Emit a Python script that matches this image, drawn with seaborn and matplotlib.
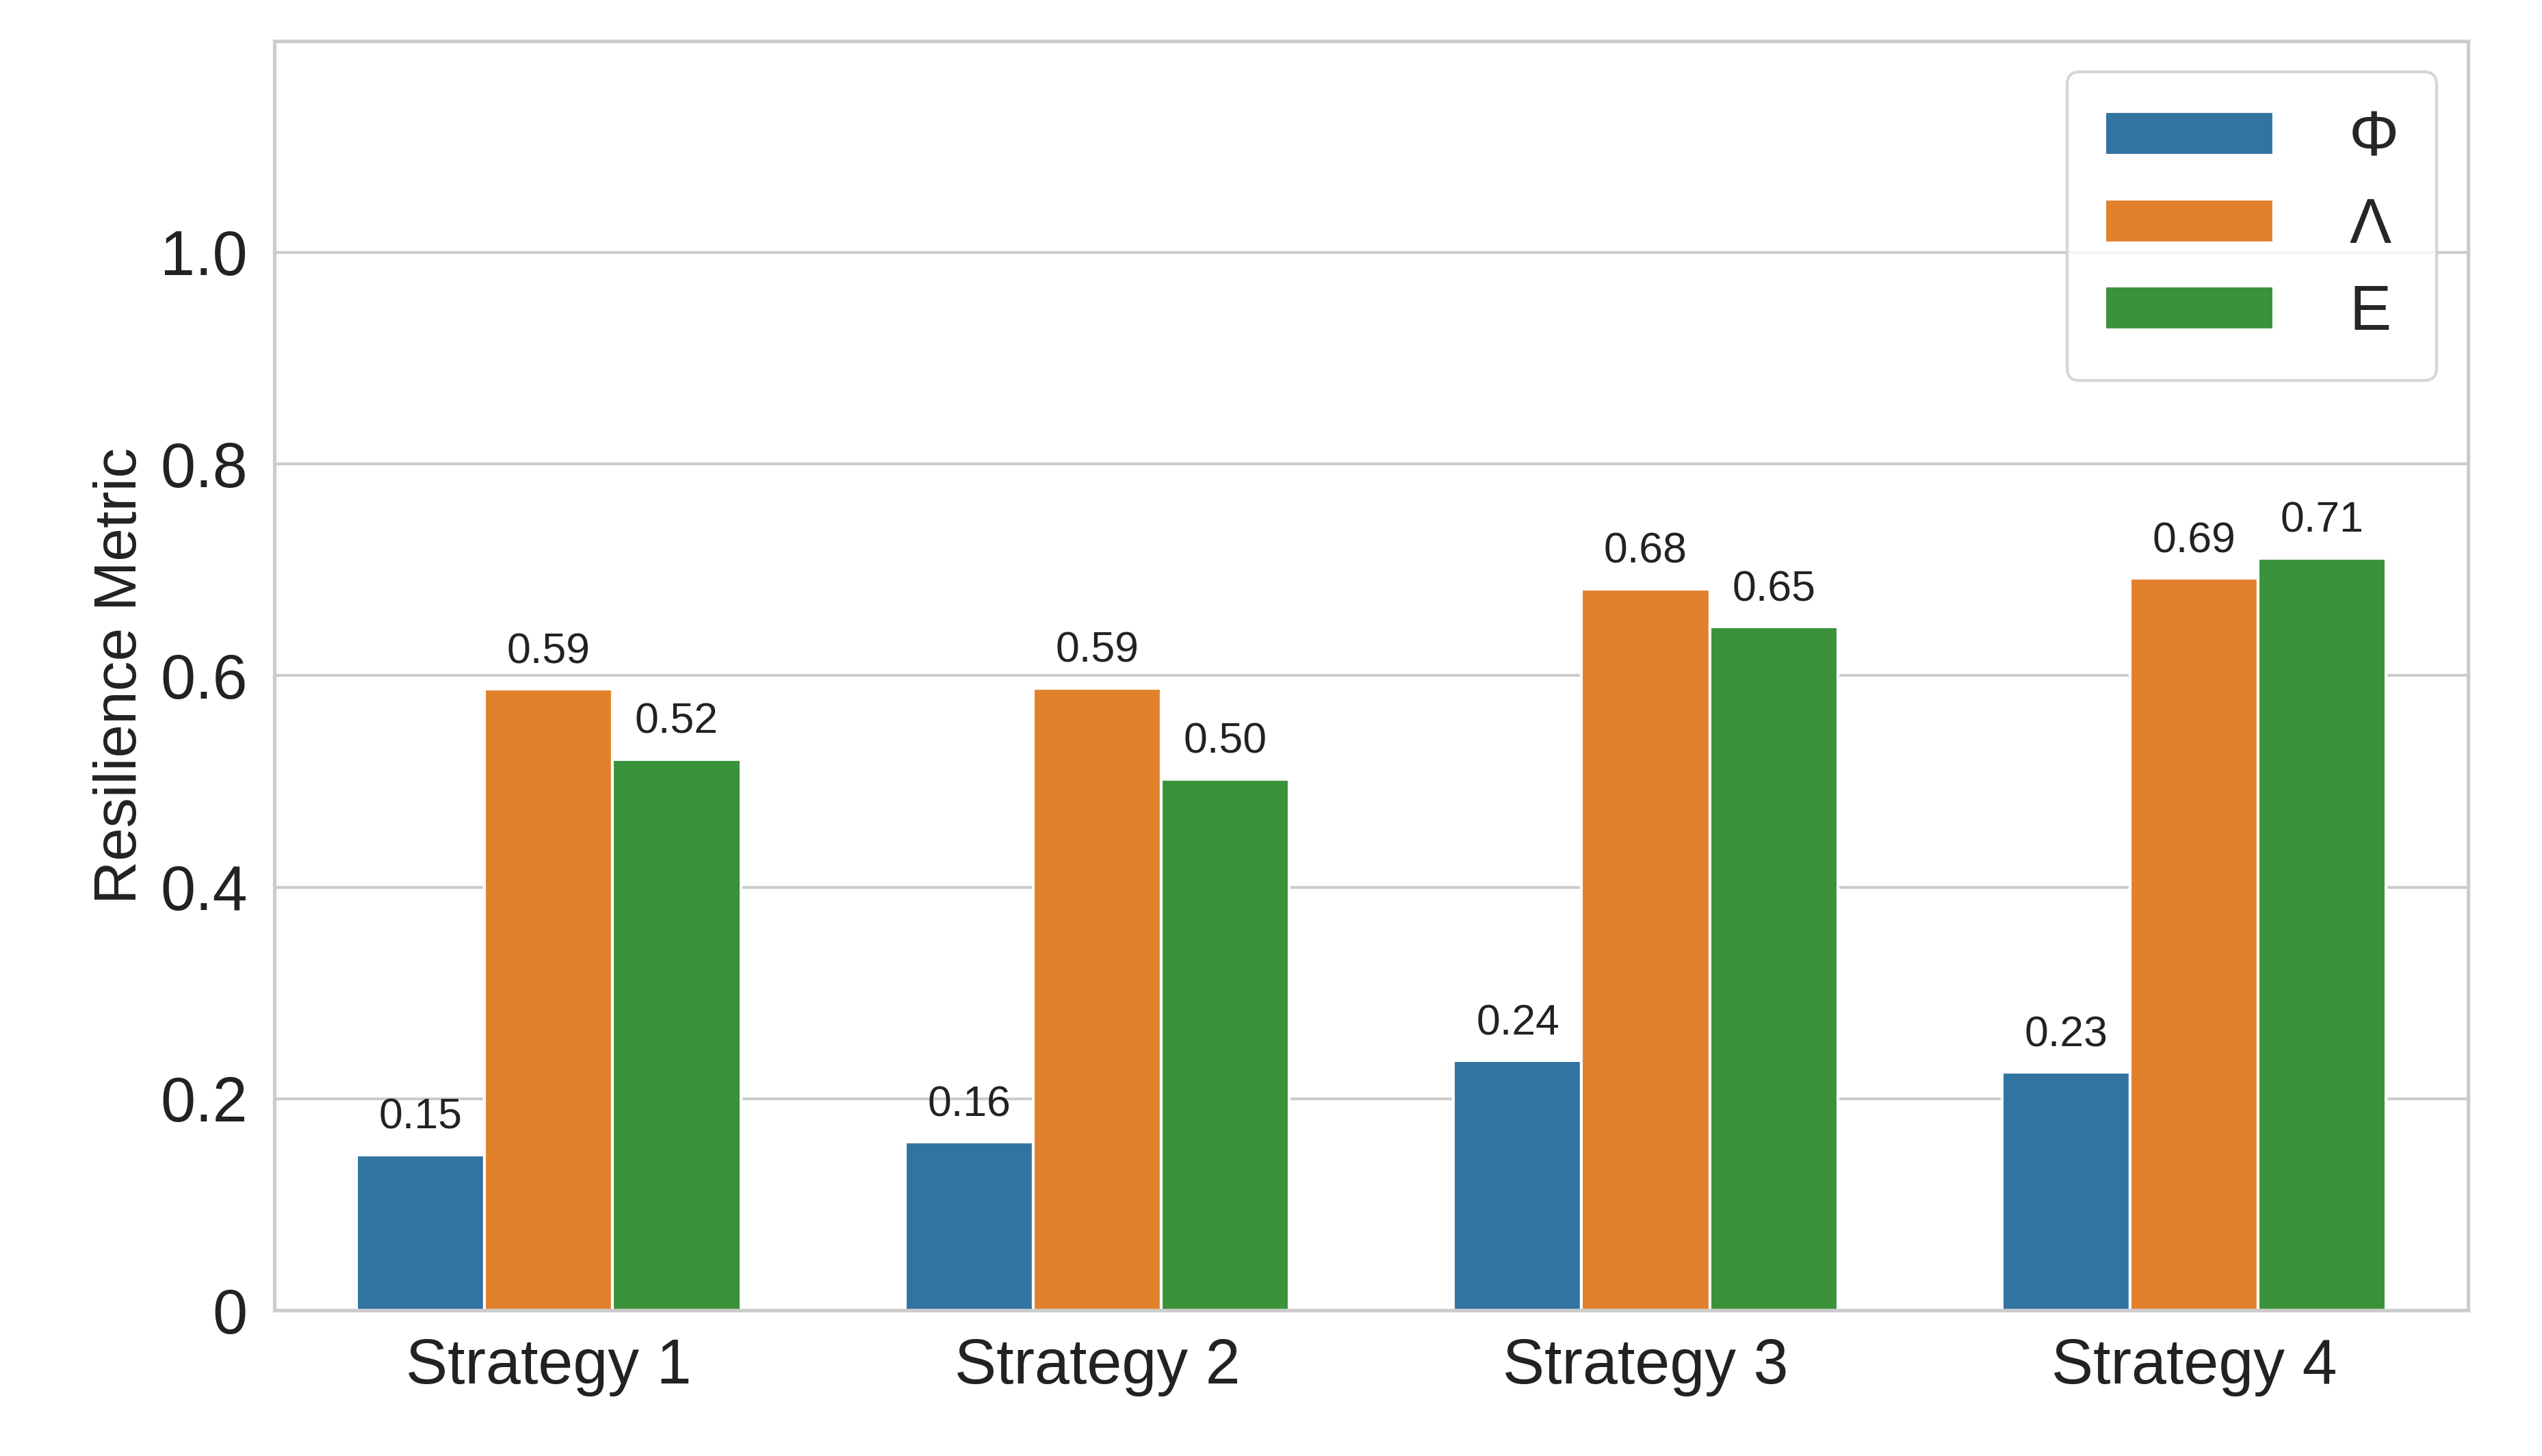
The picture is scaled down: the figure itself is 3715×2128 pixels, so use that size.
import matplotlib
matplotlib.use("Agg")
import matplotlib.pyplot as plt
import seaborn as sns
import pandas as pd

strategies = ["Strategy 1", "Strategy 2", "Strategy 3", "Strategy 4"]
metrics = ["Φ", "Λ", "E"]
phi = [0.147, 0.159, 0.236, 0.225]
lam = [0.587, 0.588, 0.682, 0.692]
eps = [0.521, 0.502, 0.646, 0.711]

rows = []
for name, vals in zip(metrics, [phi, lam, eps]):
    for s, v in zip(strategies, vals):
        rows.append({"Strategy": s, "Metric": name, "Value": v})
df = pd.DataFrame(rows)

sns.set_theme(style="whitegrid")
plt.rcParams['font.family'] = ['Liberation Sans', 'DejaVu Sans']

fig, ax = plt.subplots(figsize=(3715 / 300, 2128 / 300), dpi=300)
fig.subplots_adjust(left=0.108, right=0.971, top=0.972, bottom=0.1)

sns.barplot(data=df, x="Strategy", y="Value", hue="Metric",
            palette=["#1f77b4", "#ff7f0e", "#2ca02c"], width=0.7,
            saturation=0.75, ax=ax)

for c in ax.containers:
    ax.bar_label(c, fmt="%.2f", padding=6, fontsize=15, color="#222222")

ax.set_ylim(0, 1.2)
ax.set_yticks([0, 0.2, 0.4, 0.6, 0.8, 1.0])
ax.set_yticklabels(["0", "0.2", "0.4", "0.6", "0.8", "1.0"])
ax.tick_params(axis="both", labelsize=22, colors="#222222")
ax.set_xlabel("")
ax.set_ylabel("Resilience Metric", fontsize=21, color="#222222")
ax.xaxis.grid(False)
ax.set_axisbelow(True)

ax.legend(title=None, loc="upper right", fontsize=22, handlelength=2.7,
          handletextpad=1.2, borderpad=0.6, labelspacing=0.45)

fig.savefig("out.png", dpi=300)
